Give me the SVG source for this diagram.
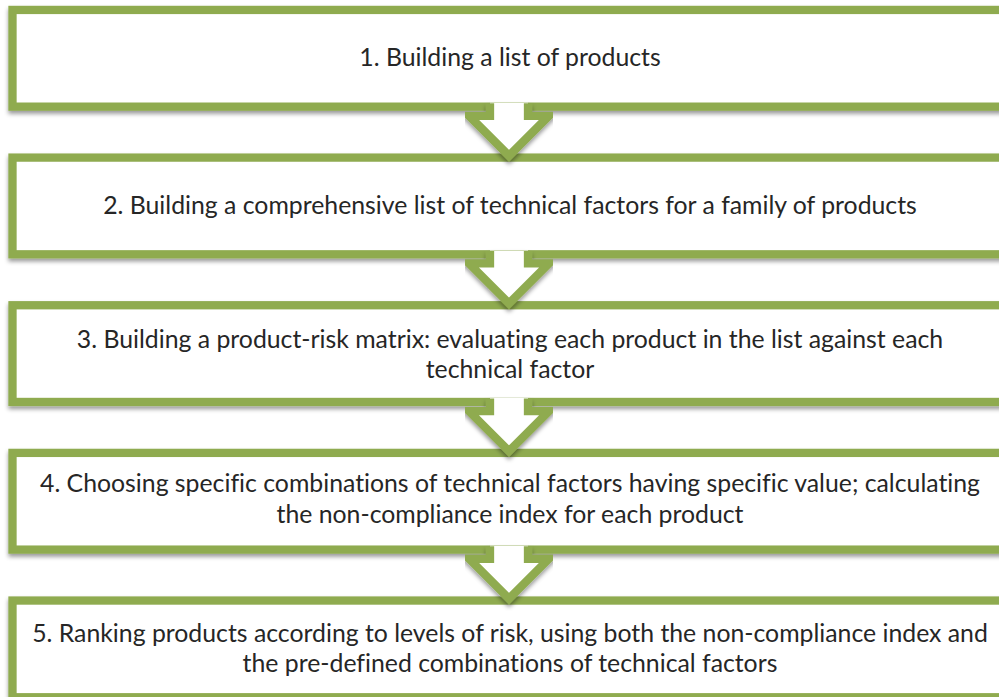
<svg xmlns="http://www.w3.org/2000/svg" width="999" height="697" viewBox="0 0 999 697">
  <defs>
    <filter id="sh" x="-5%" y="-20%" width="110%" height="150%">
      <feDropShadow dx="0" dy="3" stdDeviation="2.2" flood-color="#000" flood-opacity="0.4"/>
    </filter>
    <style>
      .box { fill: #ffffff; stroke: #8FAB50; stroke-width: 8.3; }
      .afill { fill: #ffffff; stroke: none; }
      .aline { fill: none; stroke: #8FAB50; stroke-width: 8.3; stroke-linejoin: miter; stroke-miterlimit: 10; }
      .lbl { font-family: Lato, "Noto Sans", "Liberation Sans", sans-serif; font-size: 24.8px; fill: #262626; text-anchor: middle; font-variant-ligatures: none; }
    </style>
  </defs>
  <rect width="999" height="697" fill="#ffffff"/>

  <g id="step1" filter="url(#sh)">
    <rect class="box" x="12.5" y="9.95" width="1000" height="96.7"/>
  </g>
  <g id="step2" filter="url(#sh)">
    <rect class="box" x="12.5" y="157.6" width="1000" height="96.7"/>
  </g>
  <g id="step3" filter="url(#sh)">
    <rect class="box" x="12.5" y="305.25" width="1000" height="96.7"/>
  </g>
  <g id="step4" filter="url(#sh)">
    <rect class="box" x="12.5" y="452.9" width="1000" height="96.7"/>
  </g>
  <g id="step5" filter="url(#sh)">
    <rect class="box" x="12.5" y="600.55" width="1000" height="96.7"/>
  </g>

  <g id="connectors">
    <g filter="url(#sh)" transform="translate(0,5.8)">
      <path class="afill" d="M490,97 V110 H469 L509,150 L549,110 H528 V97 Z"/>
      <path class="aline" d="M490,97.5 V110 H469 L509,150 L549,110 H528 V97.5"/>
    </g>
    <g filter="url(#sh)" transform="translate(0,153.45)">
      <path class="afill" d="M490,97 V110 H469 L509,150 L549,110 H528 V97 Z"/>
      <path class="aline" d="M490,97.5 V110 H469 L509,150 L549,110 H528 V97.5"/>
    </g>
    <g filter="url(#sh)" transform="translate(0,301.1)">
      <path class="afill" d="M490,97 V110 H469 L509,150 L549,110 H528 V97 Z"/>
      <path class="aline" d="M490,97.5 V110 H469 L509,150 L549,110 H528 V97.5"/>
    </g>
    <g filter="url(#sh)" transform="translate(0,448.75)">
      <path class="afill" d="M490,97 V110 H469 L509,150 L549,110 H528 V97 Z"/>
      <path class="aline" d="M490,97.5 V110 H469 L509,150 L549,110 H528 V97.5"/>
    </g>
  </g>

  <g id="labels">
    <text class="lbl" x="510" y="65.5">1. Building a list of products</text>
    <text class="lbl" x="510" y="213.5">2. Building a comprehensive list of technical factors for a family of products</text>
    <text class="lbl" x="510" y="348">3. Building a product-risk matrix: evaluating each product in the list against each</text>
    <text class="lbl" x="510" y="378">technical factor</text>
    <text class="lbl" x="510" y="492">4. Choosing specific combinations of technical factors having specific value; calculating</text>
    <text class="lbl" x="510" y="523">the non-compliance index for each product</text>
    <text class="lbl" x="510" y="642">5. Ranking products according to levels of risk, using both the non-compliance index and</text>
    <text class="lbl" x="510" y="672">the pre-defined combinations of technical factors</text>
  </g>
</svg>
